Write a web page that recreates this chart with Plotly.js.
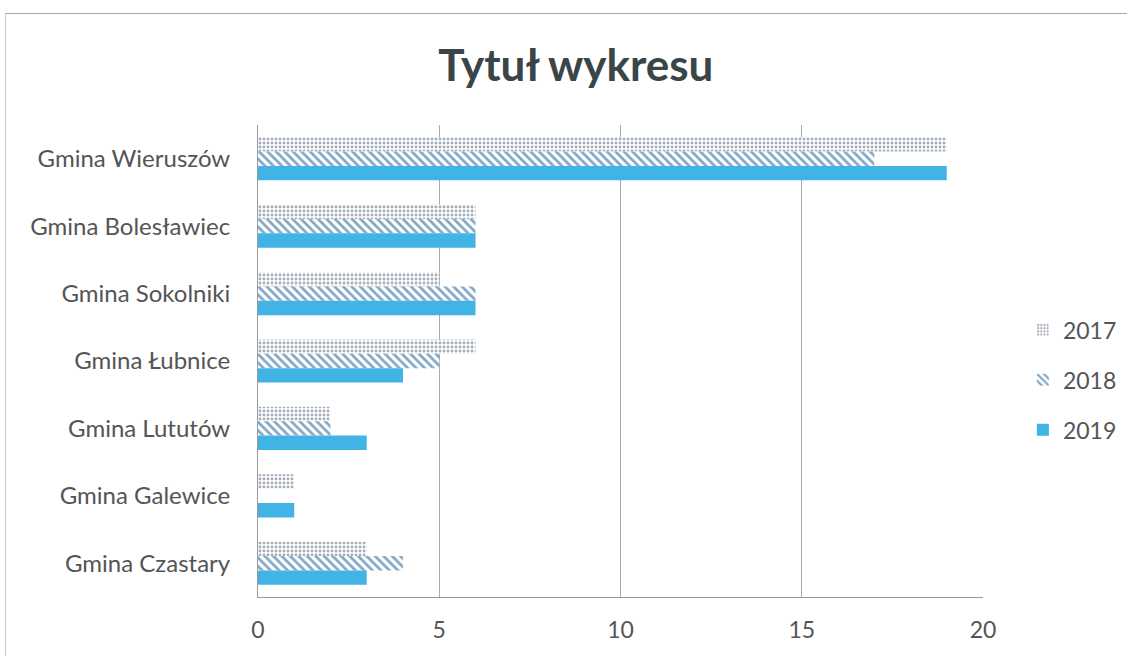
<!DOCTYPE html>
<html>
<head>
<meta charset="utf-8">
<script src="https://cdn.plot.ly/plotly-3.0.1.min.js"></script>
<style>
html,body{margin:0;padding:0;background:#fff;}
#wrap{position:relative;width:1127px;height:656px;overflow:hidden;}
#chart{width:1127px;height:656px;}
#frame{position:absolute;left:5px;top:13px;width:1200px;height:700px;border-top:1px solid #a8a8a8;border-left:1px solid #c8c8c8;pointer-events:none;}
</style>
</head>
<body>
<div id="wrap"><div id="chart"></div><div id="frame"></div></div>
<script>
const categories = ["Gmina Wieruszów","Gmina Bolesławiec","Gmina Sokolniki","Gmina Łubnice","Gmina Lututów","Gmina Galewice","Gmina Czastary"];
const years = ["2017","2018","2019"];
const v2017 = [19, 6, 5, 6, 2, 1, 3];
const v2018 = [17, 6, 6, 5, 2, 0, 4];
const v2019 = [19, 6, 6, 4, 3, 1, 3];
const xTicks = [0, 5, 10, 15, 20];

const traces = [
  {type:'bar', orientation:'h', name:years[0], legendgroup:'a', y:categories, x:v2017,
   marker:{color:'#ffffff', line:{width:0}, pattern:{shape:'.', fgcolor:'#a3adb7', bgcolor:'#ffffff', size:4, solidity:0.4}}},
  {type:'bar', orientation:'h', name:years[1], legendgroup:'b', y:categories, x:v2018,
   marker:{color:'#ffffff', line:{width:0}, pattern:{shape:'\\', fgcolor:'#7fa6c4', bgcolor:'#ffffff', size:6, solidity:0.45}}},
  {type:'bar', orientation:'h', name:years[2], legendgroup:'c', y:categories, x:v2019,
   marker:{color:'#41b3e4', line:{width:0}}}
];

const layout = {
  width:1127, height:656,
  paper_bgcolor:'#ffffff', plot_bgcolor:'#ffffff',
  margin:{l:258, r:144, t:125, b:59, autoexpand:false},
  font:{family:'Lato, "Open Sans", sans-serif', color:'#595959', size:23},
  title:{text:'<b>Tytuł wykresu</b>', x:0.511, xanchor:'center', y:0.9, yanchor:'middle',
         font:{family:'Lato, "Open Sans", sans-serif', size:44, color:'#3a4548'}},
  barmode:'group', bargap:0.36, bargroupgap:0,
  xaxis:{range:[0,20], tickvals:xTicks, ticktext:xTicks.map(String), showgrid:true, gridcolor:'#a9a9a9', gridwidth:1,
         zeroline:false, showline:true, linecolor:'#9a9a9a', mirror:false,
         ticks:'outside', ticklen:12, tickcolor:'rgba(0,0,0,0)', tickfont:{size:23, color:'#555555'}},
  yaxis:{autorange:'reversed', showline:true, linecolor:'#9a9a9a', showgrid:false,
         ticks:'outside', ticklen:22, tickcolor:'rgba(0,0,0,0)', tickfont:{size:24, color:'#555555'}},
  legend:{x:1.055, xanchor:'left', y:0.46, yanchor:'middle', font:{size:23, color:'#555555'},
          tracegroupgap:17, itemwidth:30, bgcolor:'rgba(0,0,0,0)'},
  showlegend:true
};

Plotly.newPlot('chart', traces, layout, {displayModeBar:false, staticPlot:true});
</script>
</body>
</html>
